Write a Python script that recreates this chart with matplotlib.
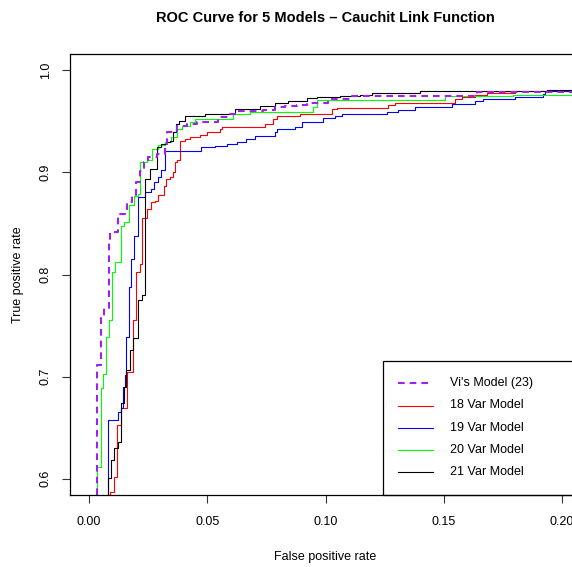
import matplotlib
matplotlib.use("Agg")
import matplotlib.pyplot as plt
from matplotlib.patches import Rectangle

plt.rcParams["font.family"] = ["Liberation Sans", "DejaVu Sans"]

# ── Data: ROC step corners (fpr where the curve rises, tpr it rises to) ──────
vi_fpr = [0.0036, 0.0036, 0.0049, 0.0062, 0.0083, 0.0091, 0.0121, 0.0151, 0.0163,
          0.0184, 0.0201, 0.0218, 0.0231, 0.0248, 0.0286, 0.0320, 0.0332, 0.0371,
          0.0413, 0.0455, 0.0544, 0.0586, 0.0629, 0.0734, 0.0785, 0.0828, 0.0878,
          0.0920, 0.1009, 0.1111, 0.1640, 0.2200]
vi_tpr = [0.5500, 0.7118, 0.7578, 0.7676, 0.8314, 0.8412, 0.8588, 0.8608, 0.8706,
          0.8775, 0.8902, 0.9010, 0.9098, 0.9147, 0.9176, 0.9255, 0.9392, 0.9451,
          0.9471, 0.9490, 0.9539, 0.9569, 0.9598, 0.9608, 0.9637, 0.9647, 0.9657,
          0.9676, 0.9716, 0.9745, 0.9784, 0.9784]

m18_fpr = [0.0091, 0.0091, 0.0105, 0.0118, 0.0137, 0.0162, 0.0186, 0.0200, 0.0214,
           0.0224, 0.0247, 0.0261, 0.0280, 0.0294, 0.0317, 0.0327, 0.0341, 0.0355,
           0.0362, 0.0374, 0.0387, 0.0404, 0.0426, 0.0468, 0.0497, 0.0552, 0.0561,
           0.0743, 0.0777, 0.0794, 0.0891, 0.1026, 0.1047, 0.1263, 0.1293, 0.1547,
           0.1576, 0.1631, 0.1682, 0.1800, 0.2200]
m18_tpr = [0.5500, 0.5873, 0.6020, 0.6529, 0.6696, 0.7049, 0.7559, 0.8029, 0.8098,
           0.8549, 0.8637, 0.8706, 0.8716, 0.8775, 0.8863, 0.8931, 0.8951, 0.9000,
           0.9098, 0.9118, 0.9304, 0.9324, 0.9343, 0.9363, 0.9392, 0.9422, 0.9441,
           0.9471, 0.9520, 0.9549, 0.9569, 0.9618, 0.9627, 0.9657, 0.9676, 0.9716,
           0.9735, 0.9755, 0.9775, 0.9794, 0.9794]

m19_fpr = [0.0080, 0.0080, 0.0122, 0.0134, 0.0143, 0.0154, 0.0158, 0.0168, 0.0179,
           0.0190, 0.0207, 0.0235, 0.0264, 0.0277, 0.0290, 0.0303, 0.0320, 0.0475,
           0.0531, 0.0582, 0.0624, 0.0662, 0.0700, 0.0785, 0.0794, 0.0870, 0.0899,
           0.0988, 0.1039, 0.1068, 0.1259, 0.1305, 0.1377, 0.1534, 0.1631, 0.1665,
           0.1800, 0.1919, 0.1927, 0.2200]
m19_tpr = [0.5500, 0.6578, 0.6657, 0.6696, 0.6902, 0.7020, 0.7392, 0.7882, 0.8147,
           0.8373, 0.8755, 0.8804, 0.8833, 0.8902, 0.8951, 0.9020, 0.9206, 0.9245,
           0.9255, 0.9275, 0.9294, 0.9324, 0.9353, 0.9392, 0.9422, 0.9441, 0.9490,
           0.9529, 0.9549, 0.9569, 0.9588, 0.9608, 0.9637, 0.9667, 0.9696, 0.9716,
           0.9735, 0.9765, 0.9794, 0.9794]

m20_fpr = [0.0035, 0.0035, 0.0049, 0.0059, 0.0073, 0.0084, 0.0097, 0.0111, 0.0134,
           0.0148, 0.0168, 0.0190, 0.0207, 0.0214, 0.0244, 0.0265, 0.0290, 0.0320,
           0.0349, 0.0371, 0.0392, 0.0426, 0.0447, 0.0607, 0.0679, 0.0946, 0.0963,
           0.1504, 0.1792, 0.2200]
m20_tpr = [0.5500, 0.6118, 0.6892, 0.7029, 0.7392, 0.7559, 0.8020, 0.8118, 0.8471,
           0.8510, 0.8676, 0.8765, 0.8784, 0.9098, 0.9118, 0.9225, 0.9265, 0.9294,
           0.9343, 0.9422, 0.9451, 0.9490, 0.9520, 0.9569, 0.9588, 0.9637, 0.9706,
           0.9745, 0.9755, 0.9755]

m21_fpr = [0.0080, 0.0080, 0.0094, 0.0108, 0.0122, 0.0137, 0.0148, 0.0158, 0.0175,
           0.0186, 0.0207, 0.0224, 0.0239, 0.0259, 0.0289, 0.0306, 0.0324, 0.0341,
           0.0354, 0.0366, 0.0379, 0.0404, 0.0489, 0.0616, 0.0722, 0.0785, 0.0840,
           0.0920, 0.0963, 0.1060, 0.1145, 0.1195, 0.1398, 0.1936, 0.2200]
m21_tpr = [0.5500, 0.6010, 0.6186, 0.6304, 0.6363, 0.6745, 0.6902, 0.7069, 0.7265,
           0.7382, 0.7755, 0.7804, 0.8931, 0.9029, 0.9245, 0.9275, 0.9294, 0.9304,
           0.9392, 0.9471, 0.9500, 0.9549, 0.9569, 0.9618, 0.9647, 0.9676, 0.9696,
           0.9725, 0.9735, 0.9745, 0.9755, 0.9775, 0.9797, 0.9807, 0.9807]

labels = ["Vi's Model (23)", "18 Var Model", "19 Var Model", "20 Var Model", "21 Var Model"]
colors = ["#A020F0", "#FF0000", "#0000FF", "#00FF00", "#000000"]
curves = [(vi_fpr, vi_tpr), (m18_fpr, m18_tpr), (m19_fpr, m19_tpr),
          (m20_fpr, m20_tpr), (m21_fpr, m21_tpr)]
styles = [dict(lw=1.5, ls=(0, (3.2, 2.4))), dict(lw=0.8, ls="-"), dict(lw=0.8, ls="-"),
          dict(lw=0.8, ls="-"), dict(lw=0.8, ls="-")]

# ── Figure: plot region runs a little past the right edge (cropped R plot) ───
W, H = 572, 567
fig = plt.figure(figsize=(W / 100, H / 100), dpi=100)
ax = fig.add_axes([70 / W, (H - 495) / H, (581 - 70) / W, (495 - 54) / H])

# draw the 21-var last so black sits on top, vi's dashed over everything
order = [1, 2, 3, 4, 0]
for i in order:
    x, y = curves[i]
    ax.plot(x, y, drawstyle="steps-post", color=colors[i], **styles[i])

ax.set_xlim(-0.008, 0.208)
ax.set_ylim(0.584, 1.016)
ax.set_xticks([0.00, 0.05, 0.10, 0.15, 0.20])
ax.set_xticklabels(["0.00", "0.05", "0.10", "0.15", "0.20"])
ax.set_yticks([0.6, 0.7, 0.8, 0.9, 1.0])
ax.set_yticklabels(["0.6", "0.7", "0.8", "0.9", "1.0"], rotation=90, va="center")
ax.tick_params(direction="out", length=6, width=0.8, labelsize=9, color="#333333")
ax.tick_params(axis="x", pad=9)
ax.tick_params(axis="y", pad=7)
for s in ax.spines.values():
    s.set_linewidth(0.9)

ax.set_xlabel("False positive rate", fontsize=9)
ax.xaxis.set_label_coords(0.5, -(557 - 495) / 441)
ax.xaxis.label.set_va("center")
ax.set_ylabel("True positive rate", fontsize=9)
ax.yaxis.set_label_coords(-(70 - 18) / 511, 0.5)
ax.yaxis.label.set_va("center")

ax.text(0.5, 1 + (54 - 18) / 441, "ROC Curve for 5 Models \u2013 Cauchit Link Function",
        transform=ax.transAxes, ha="center", va="center", fontsize=10.5, fontweight="bold")

# ── Legend box (drawn by hand, R style) ─────────────────────────────────────
ax.add_patch(Rectangle(((383 - 70) / 511, 0), 0.5, (495 - 361) / 441,
                       transform=ax.transAxes, fill=False, lw=0.9, ec="black",
                       clip_on=False, zorder=5))
row_y = [(495 - r) / 441 for r in [383, 405.5, 428, 450, 472]]
for lab, col, st, yy in zip(labels, colors, styles, row_y):
    ax.plot([(398 - 70) / 511, (433 - 70) / 511], [yy, yy], transform=ax.transAxes,
            color=col, clip_on=False, zorder=6, **st)
    ax.text((450 - 70) / 511, yy, lab, transform=ax.transAxes, ha="left",
            va="center", fontsize=9, zorder=6)

fig.savefig("out.png", dpi=100)
